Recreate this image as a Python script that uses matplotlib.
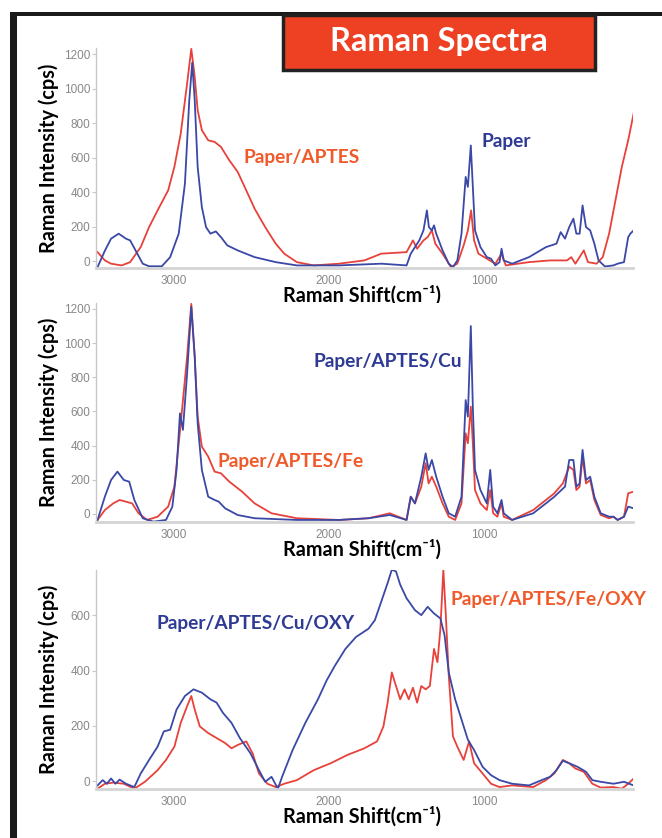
import numpy as np
import matplotlib
matplotlib.use("Agg")
import matplotlib.pyplot as plt
from matplotlib.patches import Rectangle

# ---- data (Raman shift cm-1, intensity cps) ----
paper_x = [3490, 3443, 3403, 3354, 3307, 3280, 3199, 3158, 3076, 3022, 2967, 2927, 2899, 2880,
           2864, 2845, 2818, 2791, 2763, 2728, 2695, 2654, 2587, 2478, 2342, 2206, 1934, 1662,
           1499, 1472, 1417, 1390, 1368, 1355, 1336, 1322, 1308, 1267, 1227, 1200, 1172, 1145,
           1118, 1104, 1085, 1072, 1058, 1023, 982, 955, 927, 900, 887, 873, 819, 710, 601, 533,
           506, 478, 451, 424, 405, 384, 365, 343, 316, 289, 262, 221, 166, 139, 98, 71, 57, 36]
paper_y = [-35, 60, 130, 159, 130, 120, -15, -30, -30, 23, 159, 449, 933, 1150,
           933, 546, 313, 197, 159, 172, 139, 91, 62, 23, -6, -25, -25, -15,
           -25, 43, 120, 178, 294, 197, 178, 207, 159, 62, -15, -35, 4, 159,
           488, 430, 670, 430, 178, 81, 23, 14, -25, -6, 72, 4, -15, 23, 81, 101,
           168, 130, 197, 246, 159, 159, 323, 197, 178, 101, 4, -31, -25, -15, -6, 139, 159, 178]

aptes_x = [3490, 3443, 3403, 3335, 3280, 3212, 3158, 3103, 3035, 2995, 2954, 2913, 2886, 2864,
           2845, 2818, 2777, 2736, 2695, 2641, 2587, 2532, 2478, 2410, 2342, 2287, 2206, 2097,
           1934, 1771, 1662, 1499, 1458, 1431, 1390, 1363, 1336, 1314, 1267, 1213, 1172, 1131,
           1104, 1083, 1064, 1036, 982, 927, 887, 860, 710, 574, 465, 438, 411, 357, 330, 275,
           235, 194, 153, 112, 71, 36]
aptes_y = [52, 4, -15, -25, -6, 81, 197, 294, 410, 546, 739, 1029, 1230, 1068,
           875, 759, 700, 691, 662, 584, 517, 410, 304, 197, 101, 43, -6, -25,
           -15, 4, 43, 52, 120, 72, 120, 139, 178, 101, 43, -35, -15, 91,
           178, 294, 120, 43, 14, -15, 43, -25, -6, 4, 4, 23, -15, 62, -6, -15,
           23, 159, 352, 546, 700, 855]

cu_x = [3490, 3443, 3403, 3362, 3321, 3286, 3253, 3199, 3130, 3049, 3008, 2981, 2959, 2940,
        2913, 2886, 2864, 2845, 2818, 2777, 2736, 2709, 2668, 2587, 2478, 2206, 1934, 1744,
        1607, 1499, 1472, 1445, 1404, 1376, 1357, 1336, 1308, 1267, 1227, 1186, 1145, 1118,
        1104, 1085, 1072, 1058, 1023, 982, 960, 941, 914, 887, 873, 819, 683, 601, 547, 478,
        451, 424, 405, 384, 365, 343, 316, 289, 248, 194, 166, 139, 98, 71, 36]
cu_y = [-35, 101, 199, 248, 199, 189, 82, -25, -45, -35, 43, 258, 589, 492,
        823, 1213, 921, 531, 258, 101, 82, 72, 33, -6, -25, -35, -35, -25,
        -6, -35, 101, 62, 218, 355, 258, 316, 218, 101, 4, -16, 101, 667,
        570, 1100, 628, 258, 140, 62, 258, 43, 4, 82, 4, -35, 4, 62, 101, 160,
        316, 316, 160, 179, 375, 199, 218, 101, 4, -16, -16, -35, -16, 43, 33]

fe_x = [3490, 3443, 3389, 3348, 3307, 3267, 3226, 3171, 3103, 3035, 2995, 2954, 2913, 2886,
        2864, 2845, 2818, 2777, 2736, 2695, 2641, 2559, 2478, 2369, 2206, 1934, 1744, 1607,
        1499, 1472, 1445, 1404, 1376, 1357, 1336, 1308, 1267, 1227, 1186, 1145, 1118, 1104,
        1085, 1072, 1058, 1023, 982, 960, 941, 914, 887, 873, 819, 683, 601, 547, 492, 451,
        424, 405, 384, 365, 343, 316, 289, 248, 194, 166, 139, 98, 71, 36]
fe_y = [-35, 23, 62, 82, 72, 62, 4, -35, -16, 43, 160, 531, 921, 1230,
        921, 570, 394, 336, 248, 238, 189, 131, 62, 4, -25, -35, -25, 4,
        -35, 101, 62, 160, 297, 179, 218, 160, 62, -16, -35, 62, 472, 414,
        628, 414, 140, 62, 23, 140, 4, -16, 62, -16, -35, 23, 82, 121, 179, 277,
        258, 140, 160, 336, 179, 199, 82, -6, -25, -16, -35, -16, 121, 131]

cuoxy_x = [3490, 3457, 3430, 3403, 3375, 3348, 3307, 3253, 3212, 3158, 3103, 3063, 3022, 2981,
           2927, 2872, 2818, 2763, 2723, 2682, 2627, 2573, 2505, 2450, 2410, 2369, 2328, 2301,
           2233, 2151, 2070, 2015, 1961, 1893, 1825, 1744, 1703, 1662, 1621, 1594, 1567, 1540,
           1499, 1445, 1404, 1363, 1322, 1281, 1254, 1227, 1186, 1145, 1104, 1064, 1009, 955,
           900, 819, 710, 629, 574, 533, 492, 451, 397, 343, 302, 248, 166, 98, 36]
cuoxy_y = [-15, 4, -9, 10, -9, 6, -9, -21, 28, 77, 125, 180, 186, 259,
           308, 332, 320, 296, 284, 247, 211, 156, 101, 40, -2, 16, -27, 16,
           113, 211, 296, 363, 417, 478, 521, 551, 582, 649, 716, 764, 758, 710,
           661, 618, 600, 630, 606, 588, 527, 393, 296, 223, 150, 113, 52, 22,
           4, -9, -15, 4, 16, 40, 74, 65, 52, 34, 4, -2, -9, -2, -15]

feoxy_x = [3490, 3443, 3389, 3321, 3253, 3185, 3103, 3049, 2995, 2954, 2913, 2886, 2864, 2831,
           2777, 2723, 2668, 2627, 2587, 2532, 2491, 2450, 2396, 2342, 2287, 2206, 2097, 1988,
           1880, 1771, 1689, 1648, 1621, 1594, 1567, 1540, 1512, 1485, 1458, 1431, 1404, 1376,
           1349, 1322, 1300, 1281, 1262, 1246, 1227, 1200, 1172, 1131, 1096, 1064, 1009, 955,
           900, 819, 683, 601, 547, 492, 451, 411, 357, 302, 248, 166, 112, 71, 36]
feoxy_y = [-27, -9, -5, -9, -27, -2, 40, 77, 125, 211, 271, 308, 259, 198,
           174, 156, 138, 119, 131, 144, 101, 28, -9, -21, -9, 4, 40, 65,
           95, 119, 144, 198, 284, 393, 344, 296, 332, 296, 338, 284, 344, 332,
           344, 478, 430, 551, 764, 600, 381, 162, 125, 77, 144, 65, 28, -9,
           -21, -15, -21, 4, 28, 77, 65, 46, 34, -9, -23, -21, -27, -9, 10]

panels = [
    dict(blue=(paper_x, paper_y), red=(aptes_x, aptes_y), ylim=(-40, 1235),
         yticks=[0, 200, 400, 600, 800, 1000, 1200],
         labels=[("Paper/APTES", 302, 157, "red"), ("Paper", 506, 142, "blue")]),
    dict(blue=(cu_x, cu_y), red=(fe_x, fe_y), ylim=(-47, 1235),
         yticks=[0, 200, 400, 600, 800, 1000, 1200],
         labels=[("Paper/APTES/Cu", 388, 361, "blue"), ("Paper/APTES/Fe", 291, 461, "red")]),
    dict(blue=(cuoxy_x, cuoxy_y), red=(feoxy_x, feoxy_y), ylim=(-28, 763),
         yticks=[0, 200, 400, 600],
         labels=[("Paper/APTES/Cu/OXY", 256, 623, "blue"), ("Paper/APTES/Fe/OXY", 548, 599, "red")]),
]
xticks = [3000, 2000, 1000]

W, H = 662, 838
BLUE = "#3a48a6"
RED = "#e8413a"
TXT_BLUE = "#2e3a94"
TXT_RED = "#f05a2a"
BOLD = ["Lato", "DejaVu Sans"]
TICKF = ["Liberation Sans", "DejaVu Sans"]

fig = plt.figure(figsize=(W / 100, H / 100), dpi=100)
fig.patch.set_facecolor("white")

# panel boxes in pixels: (top, bottom)
boxes = [(48, 268), (303, 522), (570, 789)]
left_px, right_px = 96, 633

for (top, bot), p in zip(boxes, panels):
    ax = fig.add_axes([left_px / W, 1 - bot / H, (right_px - left_px) / W, (bot - top) / H])
    ax.plot(*p["red"], color=RED, lw=1.3)
    ax.plot(*p["blue"], color=BLUE, lw=1.3)
    ax.set_xlim(3500, 40)
    ax.set_ylim(*p["ylim"])
    ax.set_xticks(xticks)
    ax.set_yticks(p["yticks"])
    for s in ["top", "right"]:
        ax.spines[s].set_visible(False)
    ax.spines["left"].set_color("#c8c8c8")
    ax.spines["left"].set_linewidth(1.0)
    ax.spines["bottom"].set_color("#d4d4d4")
    ax.spines["bottom"].set_linewidth(2.0)
    ax.tick_params(axis="y", colors="#c8c8c8", labelcolor="#888888", length=3, width=0.8, pad=1)
    ax.tick_params(axis="x", colors="#d4d4d4", labelcolor="#888888", length=0, pad=5)
    for lab in ax.get_xticklabels() + ax.get_yticklabels():
        lab.set_family(TICKF)
        lab.set_fontsize(8.5)
    ax.set_ylabel("Raman Intensity (cps)", family=BOLD, fontweight="bold", fontsize=14.3)
    ax.yaxis.set_label_coords((59 - left_px) / (right_px - left_px), 0.5)
    ax.text(0.495, -28 / (bot - top), "Raman Shift(cm\u207b\u00b9)",
            transform=ax.transAxes, ha="center", va="center",
            family=BOLD, fontweight="bold", fontsize=14.3)
    for txt, x, y, c in p["labels"]:
        fig.text(x / W, 1 - y / H, txt, ha="center", va="center", family=BOLD,
                 fontweight="bold", fontsize=13.8, color=TXT_BLUE if c == "blue" else TXT_RED)

# black frame (left and top bars)
fig.add_artist(Rectangle((10 / W, 0), 7 / W, 1 - 12 / H, transform=fig.transFigure,
                         facecolor="#1a1a1a", edgecolor="none"))
fig.add_artist(Rectangle((10 / W, 1 - 16 / H), 1 - 10 / W, 4 / H, transform=fig.transFigure,
                         facecolor="#1a1a1a", edgecolor="none"))

# title box
fig.add_artist(Rectangle((283 / W, 1 - 70 / H), 312 / W, 55 / H, transform=fig.transFigure,
                         facecolor="#ee4124", edgecolor="#222222", lw=2.5))
fig.text(439 / W, 1 - 41 / H, "Raman Spectra", ha="center", va="center", color="white",
         family=BOLD, fontweight="bold", fontsize=23.5)

fig.savefig("out.png", dpi=100)
